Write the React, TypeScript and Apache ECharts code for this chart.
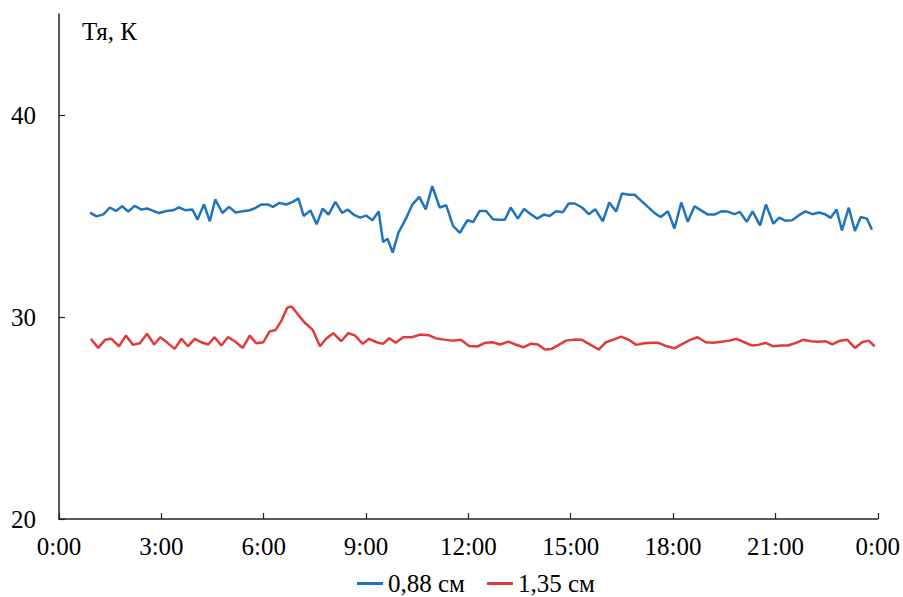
import React, { useEffect, useRef } from "react";
import * as echarts from "echarts";

// time in hours, series values in K
const hours088 = [0.91,1.10,1.30,1.49,1.67,1.85,2.03,2.22,2.42,2.59,2.76,2.93,3.15,3.34,3.52,3.71,3.91,4.06,4.25,4.42,4.58,4.79,4.98,5.18,5.37,5.56,5.73,5.93,6.12,6.27,6.46,6.66,6.85,7.02,7.17,7.37,7.55,7.73,7.90,8.10,8.30,8.46,8.66,8.83,9.00,9.19,9.37,9.50,9.63,9.78,9.95,10.17,10.36,10.56,10.75,10.94,11.16,11.35,11.55,11.75,11.97,12.14,12.33,12.52,12.72,12.90,13.07,13.24,13.45,13.63,13.82,14.02,14.21,14.38,14.57,14.77,14.94,15.12,15.33,15.53,15.72,15.94,16.13,16.33,16.50,16.70,16.87,17.07,17.26,17.48,17.64,17.85,18.04,18.24,18.43,18.63,18.82,19.02,19.21,19.41,19.60,19.80,19.96,20.16,20.33,20.55,20.72,20.94,21.11,21.30,21.49,21.69,21.88,22.08,22.27,22.45,22.62,22.79,22.95,23.15,23.33,23.50,23.68,23.83];
const values088 = [35.17,34.98,35.08,35.42,35.25,35.48,35.22,35.5,35.32,35.37,35.25,35.15,35.25,35.28,35.43,35.28,35.32,34.82,35.58,34.74,35.82,35.15,35.45,35.17,35.23,35.27,35.37,35.57,35.57,35.45,35.65,35.57,35.70,35.87,35.0,35.28,34.59,35.37,35.07,35.70,35.15,35.32,35.04,34.92,35.02,34.79,35.23,33.71,33.88,33.19,34.18,34.87,35.58,35.95,35.33,36.48,35.42,35.53,34.51,34.16,34.79,34.70,35.25,35.25,34.84,34.81,34.81,35.42,34.87,35.35,35.10,34.87,35.07,35.0,35.24,35.19,35.62,35.62,35.42,35.09,35.33,34.74,35.67,35.22,36.11,36.05,36.05,35.75,35.45,35.12,34.95,35.23,34.38,35.67,34.71,35.48,35.28,35.07,35.07,35.23,35.22,35.09,35.2,34.71,35.23,34.54,35.57,34.62,34.92,34.76,34.79,35.04,35.23,35.09,35.17,35.09,34.91,35.32,34.29,35.41,34.26,34.95,34.87,34.32];

const hours135 = [0.93,1.15,1.35,1.54,1.76,1.96,2.17,2.37,2.58,2.79,2.97,3.18,3.39,3.59,3.78,3.98,4.17,4.37,4.56,4.76,4.95,5.15,5.39,5.59,5.78,5.99,6.17,6.35,6.51,6.69,6.82,7.03,7.19,7.44,7.65,7.83,8.04,8.27,8.48,8.68,8.90,9.09,9.31,9.50,9.68,9.87,10.09,10.34,10.58,10.83,11.04,11.29,11.53,11.78,12.02,12.26,12.49,12.70,12.94,13.17,13.38,13.61,13.82,14.04,14.24,14.44,14.65,14.86,15.09,15.33,15.58,15.82,16.03,16.23,16.48,16.70,16.92,17.16,17.38,17.57,17.82,18.04,18.25,18.50,18.72,18.96,19.18,19.42,19.65,19.86,20.09,20.30,20.50,20.71,20.94,21.16,21.37,21.60,21.81,22.04,22.25,22.47,22.67,22.89,23.11,23.33,23.54,23.73,23.91];
const values135 = [28.92,28.47,28.87,28.92,28.55,29.08,28.62,28.70,29.17,28.64,29.0,28.72,28.42,28.92,28.55,28.92,28.75,28.64,29.0,28.59,29.0,28.80,28.47,29.08,28.70,28.75,29.28,29.36,29.78,30.46,30.52,30.07,29.74,29.36,28.55,28.92,29.20,28.80,29.20,29.08,28.67,28.92,28.75,28.67,28.95,28.72,29.0,29.0,29.13,29.10,28.95,28.88,28.83,28.87,28.57,28.54,28.72,28.75,28.64,28.78,28.64,28.50,28.67,28.64,28.39,28.42,28.62,28.83,28.88,28.87,28.62,28.39,28.75,28.87,29.03,28.87,28.62,28.70,28.72,28.72,28.55,28.45,28.64,28.87,29.0,28.75,28.72,28.78,28.83,28.92,28.75,28.59,28.62,28.72,28.55,28.59,28.59,28.72,28.87,28.80,28.78,28.80,28.64,28.83,28.87,28.47,28.75,28.83,28.55];

const seriesNames = ["0,88 см", "1,35 см"];
const seriesColors = ["#1f75bd", "#e03b3b"];
const yTicks = [20, 30, 40];
const axisTitle = "Тя, К";

const FONT = "'Liberation Serif', 'Times New Roman', serif";

export default function App() {
  const ref = useRef<HTMLDivElement>(null);
  useEffect(() => {
    if (!ref.current) return;
    const chart = echarts.init(ref.current, undefined, { renderer: "svg" });
    const zip = (xs: number[], ys: number[]) => xs.map((x, i) => [x, ys[i]]);
    chart.setOption({
      animation: false,
      backgroundColor: "#ffffff",
      textStyle: { fontFamily: FONT },
      grid: { left: 59, right: 24, top: 14, bottom: 78, containLabel: false },
      graphic: [
        {
          type: "text",
          left: 82,
          top: 19,
          style: { text: axisTitle, font: `25px ${FONT}`, fill: "#000" },
        },
      ],
      legend: {
        top: 566,
        left: 352,
        padding: 5,
        itemWidth: 26,
        itemHeight: 3,
        itemGap: 22,
        icon: "rect",
        textStyle: { fontFamily: FONT, fontSize: 25, color: "#000" },
        data: seriesNames,
      },
      xAxis: {
        type: "value",
        min: 0,
        max: 24,
        interval: 3,
        axisLine: { lineStyle: { color: "#222", width: 1.5 } },
        axisTick: { inside: true, length: 6, lineStyle: { color: "#222", width: 1.2 } },
        splitLine: { show: false },
        axisLabel: {
          margin: 15,
          fontFamily: FONT,
          fontSize: 25,
          color: "#000",
          formatter: (v: number) => `${v % 24}:00`,
        },
      },
      yAxis: {
        type: "value",
        min: 20,
        max: 45,
        interval: 10,
        axisLine: { show: true, lineStyle: { color: "#222", width: 1.5 } },
        axisTick: { show: true, inside: true, length: 6, customValues: yTicks, lineStyle: { color: "#222", width: 1.2 } },
        splitLine: { show: false },
        axisLabel: {
          margin: 23,
          fontFamily: FONT,
          fontSize: 25,
          color: "#000",
          customValues: yTicks,
        },
      },
      series: [
        {
          name: seriesNames[0],
          type: "line",
          data: zip(hours088, values088),
          showSymbol: false,
          symbol: "none",
          lineStyle: { color: seriesColors[0], width: 2.5 },
          itemStyle: { color: seriesColors[0] },
        },
        {
          name: seriesNames[1],
          type: "line",
          data: zip(hours135, values135),
          showSymbol: false,
          symbol: "none",
          lineStyle: { color: seriesColors[1], width: 2.5 },
          itemStyle: { color: seriesColors[1] },
        },
      ],
    });
    return () => chart.dispose();
  }, []);
  return (
    <div
      ref={ref}
      style={{ position: "fixed", left: 0, top: 0, width: 903, height: 597 }}
    />
  );
}
